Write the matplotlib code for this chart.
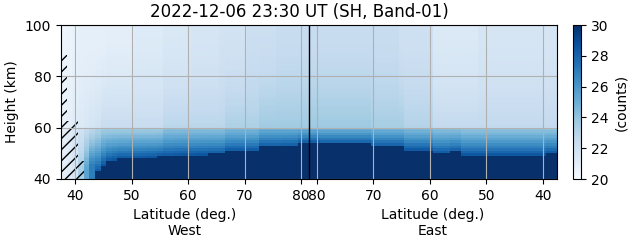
import numpy as np
import matplotlib
matplotlib.use("Agg")
import matplotlib.pyplot as plt
from matplotlib.patches import Polygon

# latitude bins (deg), West side goes equator->pole, East side pole->equator
west_lat = np.arange(38, 82)
east_lat = np.arange(81, 37, -1)
pole_edge = 81.4

# per-column readings from the picture (West, lat 38..81)
west_top_sat = [40, 40, 40, 44, 44, 45.5, 42.7, 45.4, 47, 47.5,
                48, 48, 48.2, 48.2, 48.3, 48.5, 48.5, 48.8, 49, 49,
                49.2, 49.4, 49.4, 49.4, 49.5, 49.5, 49.6, 49.6, 49.7, 50.9,
                50.9, 50.9, 50.9, 51, 51, 52.6, 52.6, 52.6, 52.6, 52.7,
                52.7, 52.8, 53.9, 53.9]
west_bottom = [21, 21.3, 21.8, 23.5, 25.5, 27, 31, 31, 31, 31,
               31, 31, 31, 31, 31, 31, 31, 31, 31, 31,
               31, 31, 31, 31, 31, 31, 31, 31, 31, 31,
               31, 31, 31, 31, 31, 31, 31, 31, 31, 31,
               31, 31, 31, 31]
west_edge = [21, 21.3, 21.8, 23.5, 25.5, 27, 28.5, 28.5, 28.5, 28.5,
             28.5, 28.5, 28.5, 28.5, 28.5, 28.5, 28.5, 28.5, 28.5, 28.5,
             28.5, 28.5, 28.5, 28.5, 28.5, 28.5, 28.5, 28.5, 28.5, 28.5,
             28.5, 28.5, 28.5, 28.5, 28.5, 28.5, 28.5, 28.5, 28.5, 28.5,
             28.5, 28.5, 28.5, 28.5]
west_below60 = [21, 21.2, 21.5, 22, 22.5, 22.8, 23.2, 23.6, 23.6, 23.6,
                23.6, 23.6, 23.6, 23.6, 23.6, 23.6, 23.6, 23.6, 24.2, 24.2,
                24.2, 24.2, 24.2, 24.2, 24.2, 24.2, 24.2, 24.2, 24.2, 24.6,
                24.6, 24.6, 24.6, 24.6, 24.6, 25, 25, 25, 25, 25,
                25, 25, 25, 25]
west_above60 = [20.8, 21, 21.2, 21.4, 21.6, 21.8, 22, 22.4, 22.4, 22.4,
                22.4, 22.4, 22.4, 22.4, 22.4, 22.4, 22.4, 22.4, 22.9, 22.9,
                22.9, 22.9, 22.9, 22.9, 22.9, 22.9, 22.9, 22.9, 22.9, 23.3,
                23.3, 23.3, 23.3, 23.3, 23.3, 23.7, 23.7, 23.7, 23.7, 23.7,
                23.7, 23.7, 23.7, 23.7]
west_top = [20.5, 20.6, 20.7, 20.9, 20.9, 20.9, 20.9, 20.9, 21, 21,
            21, 21, 21, 21.3, 21.3, 21.3, 21.3, 21.3, 21.5, 21.5,
            21.5, 21.5, 21.5, 21.7, 21.7, 21.7, 21.7, 21.7, 21.9, 21.9,
            21.9, 21.9, 21.9, 22.2, 22.2, 22.2, 22.2, 22.2, 22.4, 22.4,
            22.4, 22.4, 22.4, 22.4]

# East, lat 81..38
east_top_sat = [54, 54, 53.6, 53.6, 53.6, 53.6, 53.6, 53.6, 53.6, 53.6,
                53.6, 52.6, 52.6, 52.6, 52.6, 52.6, 52.6, 51.3, 51.3, 51.3,
                51.3, 51.3, 50, 50, 50, 50.6, 50.6, 49.4, 49.4, 49.4,
                49.4, 49.4, 49.4, 49.4, 49.4, 49.4, 49.4, 49.4, 49.4, 49.4,
                49.4, 49.4, 50, 50]
east_bottom = [31] * 44
east_edge = [28.5] * 44
east_below60 = [25, 25, 25, 25, 25, 25, 25, 25, 25, 25,
                25, 24.8, 24.8, 24.8, 24.8, 24.8, 24.8, 24.5, 24.5, 24.5,
                24.5, 24.5, 24.2, 24.2, 24.2, 24.2, 24.2, 24, 24, 24,
                24, 24, 24, 24, 24, 24, 24, 24, 24, 24,
                24, 24, 24, 24]
east_above60 = [23.8, 23.8, 23.8, 23.8, 23.8, 23.8, 23.8, 23.8, 23.8, 23.8,
                23.8, 23.5, 23.5, 23.5, 23.5, 23.5, 23.5, 23.1, 23.1, 23.1,
                23.1, 23.1, 22.6, 22.6, 22.6, 22.6, 22.6, 22.6, 22.6, 22.6,
                22.6, 22.6, 22.6, 22.6, 22.6, 22.6, 22.6, 22.6, 22.6, 22.6,
                22.6, 22.6, 22.6, 22.6]
east_top = [22.4, 22.4, 22.4, 22.4, 22.4, 22.4, 22.4, 22.4, 22.4, 22.4,
            22.4, 22.4, 22.4, 22.4, 22.4, 22.4, 22.1, 22.1, 22.1, 22.1,
            22.1, 22.1, 21.4, 21.4, 21.4, 21.4, 21.4, 21.4, 21.4, 21.4,
            21.7, 21.7, 21.7, 21.7, 21.7, 21.7, 21.7, 21.7, 21.7, 21.7,
            21.7, 21.7, 21.7, 21.7]

height = np.arange(40.5, 100, 1.0)
height_edges = np.arange(40, 101, 1.0)

# hatched (invalid) region on the West side: (lat, height) corners
hatch_lat = [37.5, 41.5, 41.5, 40.5, 40.5, 38.5, 38.5, 37.5]
hatch_hgt = [40, 40, 47, 47, 62.5, 62.5, 88.5, 88.5]


def build_columns(top_sat, bottom, edge, below60, above60, top):
    cols = []
    for hs, vb, ve, v1, v2, vt in zip(top_sat, bottom, edge, below60, above60, top):
        col = np.empty_like(height)
        for i, h in enumerate(height):
            if h < hs:
                col[i] = vb
            elif h < 60:
                col[i] = v1 + (ve - v1) * ((60 - h) / (60 - hs)) ** 1.3
            else:
                col[i] = vt + (v2 - vt) * ((100 - h) / 40) ** 1.8
        cols.append(col)
    return np.array(cols).T


west_counts = build_columns(west_top_sat, west_bottom, west_edge,
                            west_below60, west_above60, west_top)
east_counts = build_columns(east_top_sat, east_bottom, east_edge,
                            east_below60, east_above60, east_top)


# map latitude to a continuous x coordinate: West as is, East mirrored past the pole
def west_x(lat):
    return np.asarray(lat, dtype=float)


def east_x(lat):
    return 2 * pole_edge - np.asarray(lat, dtype=float)


west_edges = np.append(west_lat - 0.5, pole_edge)
east_edges = np.append(pole_edge, east_lat[1:] + 0.5)
east_edges = np.append(east_edges, east_lat[-1] - 0.5)

fig = plt.figure(figsize=(6.31, 2.43), dpi=100)
ax = fig.add_axes([61 / 631, 1 - 179 / 243, 496 / 631, 154 / 243])
cax = fig.add_axes([573 / 631, 1 - 179 / 243, 8 / 631, 154 / 243])

mesh = ax.pcolormesh(west_x(west_edges), height_edges, west_counts,
                     cmap="Blues", vmin=20, vmax=30, shading="flat")
ax.pcolormesh(east_x(east_edges), height_edges, east_counts,
              cmap="Blues", vmin=20, vmax=30, shading="flat")

ax.add_patch(Polygon(np.column_stack([west_x(hatch_lat), hatch_hgt]),
                     closed=True, fill=False, hatch="///", edgecolor="k", linewidth=0))

ax.axvline(pole_edge, color="k", linewidth=1)

tick_lats = [40, 50, 60, 70, 80]
ax.set_xticks(list(west_x(tick_lats)) + list(east_x(tick_lats[::-1])))
ax.set_xticklabels([str(t) for t in tick_lats] + [str(t) for t in tick_lats[::-1]])
ax.set_yticks([40, 60, 80, 100])
ax.set_xlim(west_x(37.5), east_x(37.5))
ax.set_ylim(40, 100)
ax.grid(True)
ax.set_ylabel("Height (km)")

for x_mid, side in [((37.5 + pole_edge) / 2, "West"),
                    ((pole_edge + east_x(37.5)) / 2, "East")]:
    ax.annotate(f"Latitude (deg.)\n{side}", xy=(x_mid, 0), xycoords=("data", "axes fraction"),
                xytext=(0, -21), textcoords="offset points", ha="center", va="top")

cb = fig.colorbar(mesh, cax=cax)
cb.set_ticks([20, 22, 24, 26, 28, 30])
cb.set_label("(counts)")

fig.text(299 / 631, 1 - 12 / 243, "2022-12-06 23:30 UT (SH, Band-01)",
         ha="center", va="center", fontsize=12)

fig.savefig("out.png", dpi=100)
